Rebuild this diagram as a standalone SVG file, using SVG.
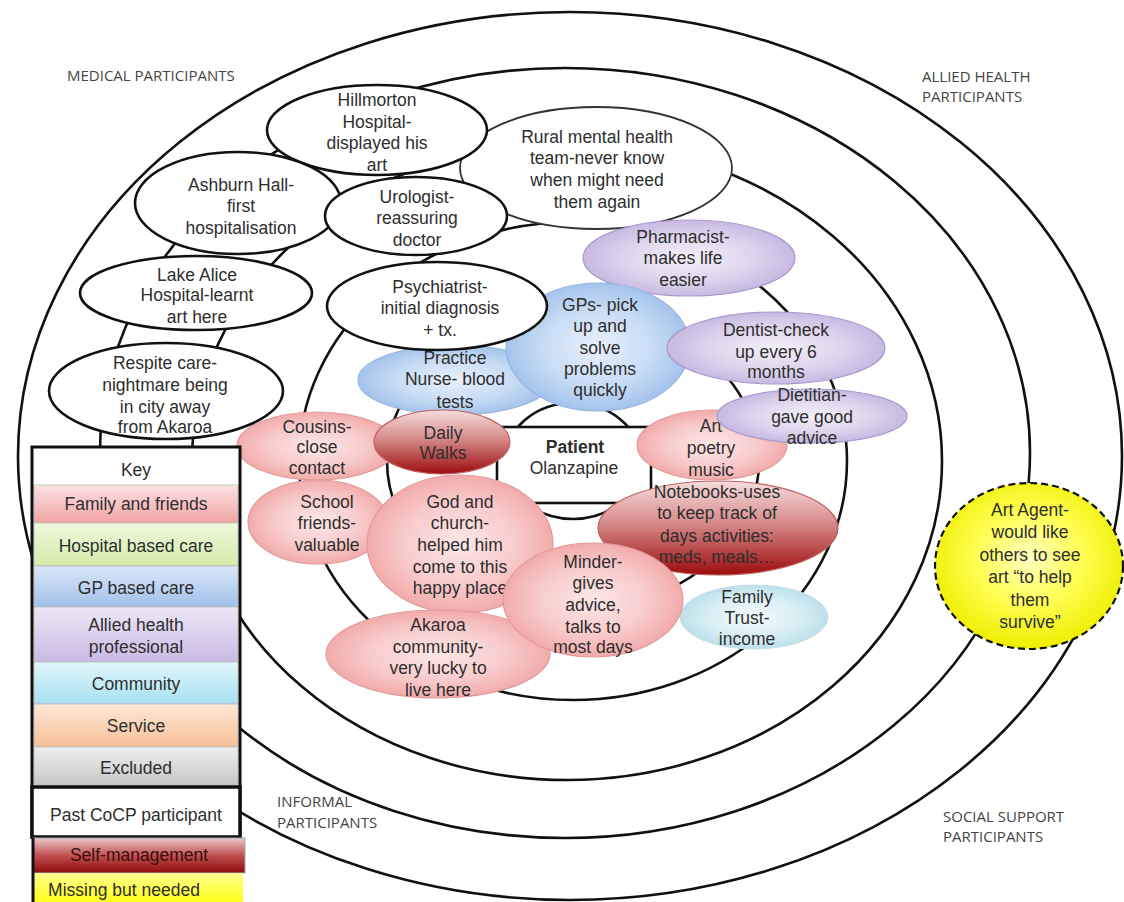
<svg xmlns="http://www.w3.org/2000/svg" width="1124" height="902" viewBox="0 0 1124 902">
<defs>
<style>
.ring{fill:none;stroke:#111;stroke-width:2.6}
.past{fill:#fff;stroke:#111;stroke-width:2.6}
.rural{fill:#fff;stroke:#333;stroke-width:1.8}
.t{font-family:"Liberation Sans",Arial,sans-serif;font-size:17.5px;fill:#2e2e2e;text-anchor:middle}
.tb{font-weight:bold}
.lbl{font-family:"Open Sans","Liberation Sans",sans-serif;font-size:15px;fill:#444}
.pink{fill:url(#rPink);stroke:#e29a9a;stroke-width:1.2}
.blue{fill:url(#rBlue);stroke:#95b5df;stroke-width:1.2}
.purple{fill:url(#rPurple);stroke:#a99bcd;stroke-width:1.2}
.cyan{fill:url(#rCyan);stroke:#c4e0ea;stroke-width:1}
.self{fill:url(#lSelf);stroke:#c06060;stroke-width:1.2}
.yellow{fill:url(#rYellow);stroke:#111;stroke-width:2.2;stroke-dasharray:7 4}
.krow{stroke:#bbb;stroke-width:0.8}
</style>
<radialGradient id="rPink" cx="0.5" cy="0.5" r="0.5">
<stop offset="0" stop-color="#fde7e7"/><stop offset="0.6" stop-color="#f8cbcb"/><stop offset="1" stop-color="#f2abab"/>
</radialGradient>
<radialGradient id="rBlue" cx="0.5" cy="0.5" r="0.5">
<stop offset="0" stop-color="#e8f0fb"/><stop offset="0.6" stop-color="#c7dcf4"/><stop offset="1" stop-color="#a4c3ec"/>
</radialGradient>
<radialGradient id="rPurple" cx="0.5" cy="0.5" r="0.5">
<stop offset="0" stop-color="#f4f0f9"/><stop offset="0.6" stop-color="#ded5ed"/><stop offset="1" stop-color="#c7b9e1"/>
</radialGradient>
<radialGradient id="rCyan" cx="0.5" cy="0.5" r="0.5">
<stop offset="0" stop-color="#f3fafc"/><stop offset="0.6" stop-color="#daeff5"/><stop offset="1" stop-color="#bde0eb"/>
</radialGradient>
<radialGradient id="rYellow" cx="0.5" cy="0.45" r="0.55">
<stop offset="0" stop-color="#ffffc0"/><stop offset="0.5" stop-color="#ffff55"/><stop offset="1" stop-color="#eeee00"/>
</radialGradient>
<linearGradient id="lSelf" x1="0" y1="0" x2="0" y2="1">
<stop offset="0" stop-color="#f7dcdc"/><stop offset="0.45" stop-color="#d68a8a"/><stop offset="1" stop-color="#9c0c0c"/>
</linearGradient>
<linearGradient id="kPink" x1="0" y1="0" x2="0" y2="1"><stop offset="0" stop-color="#fbe2e2"/><stop offset="1" stop-color="#f2a3a3"/></linearGradient>
<linearGradient id="kGreen" x1="0" y1="0" x2="0" y2="1"><stop offset="0" stop-color="#f0f9de"/><stop offset="1" stop-color="#d2eba8"/></linearGradient>
<linearGradient id="kBlue" x1="0" y1="0" x2="0" y2="1"><stop offset="0" stop-color="#dbe7f8"/><stop offset="1" stop-color="#a0c0ea"/></linearGradient>
<linearGradient id="kPurple" x1="0" y1="0" x2="0" y2="1"><stop offset="0" stop-color="#eee7f6"/><stop offset="1" stop-color="#c9b9e2"/></linearGradient>
<linearGradient id="kCyan" x1="0" y1="0" x2="0" y2="1"><stop offset="0" stop-color="#e2f6fb"/><stop offset="1" stop-color="#a6e0ef"/></linearGradient>
<linearGradient id="kOrange" x1="0" y1="0" x2="0" y2="1"><stop offset="0" stop-color="#fde8d8"/><stop offset="1" stop-color="#f6bf96"/></linearGradient>
<linearGradient id="kGray" x1="0" y1="0" x2="0" y2="1"><stop offset="0" stop-color="#eeeeee"/><stop offset="1" stop-color="#c4c4c4"/></linearGradient>
<linearGradient id="kSelf" x1="0" y1="0" x2="0" y2="1"><stop offset="0" stop-color="#ecc8c8"/><stop offset="0.5" stop-color="#c05050"/><stop offset="1" stop-color="#8e0a0a"/></linearGradient>
<linearGradient id="kYellow" x1="0" y1="0" x2="0" y2="1"><stop offset="0" stop-color="#ffff90"/><stop offset="1" stop-color="#ffff10"/></linearGradient>
</defs>
<rect width="1124" height="902" fill="#fff"/>

<g id="rings">
<ellipse class="ring" cx="570" cy="456" rx="552" ry="444"/>
<ellipse class="ring" cx="565" cy="453" rx="465" ry="385"/>
<ellipse class="ring" cx="567" cy="461" rx="375" ry="319"/>
<ellipse class="ring" cx="573" cy="461" rx="274" ry="239"/>
<ellipse class="ring" cx="573" cy="461" rx="186" ry="150"/>
</g>

<g id="labels">
<text class="lbl" x="67" y="81">MEDICAL PARTICIPANTS</text>
<text class="lbl" x="922" y="82">ALLIED HEALTH</text>
<text class="lbl" x="922" y="102">PARTICIPANTS</text>
<text class="lbl" x="277" y="807">INFORMAL</text>
<text class="lbl" x="277" y="828">PARTICIPANTS</text>
<text class="lbl" x="943" y="822">SOCIAL SUPPORT</text>
<text class="lbl" x="943" y="842">PARTICIPANTS</text>
</g>

<g id="patient">
<ellipse class="past" cx="573" cy="461" rx="68" ry="58"/>
<rect x="497" y="427" width="154" height="76" fill="#fff" stroke="#111" stroke-width="2.6"/>
<text class="t"><tspan class="tb" x="575" y="453">Patient</tspan><tspan x="574" y="474">Olanzapine</tspan></text>
</g>

<g id="rural">
<ellipse class="rural" cx="596" cy="168" rx="136" ry="61"/>
<text class="t"><tspan x="597" y="143">Rural mental health</tspan><tspan x="597" y="164">team-never know</tspan><tspan x="597" y="186">when might need</tspan><tspan x="597" y="208">them again</tspan></text>
</g>

<g id="ashburn">
<ellipse class="past" cx="238" cy="203" rx="103" ry="51"/>
<text class="t"><tspan x="241" y="191">Ashburn Hall-</tspan><tspan x="241" y="212">first</tspan><tspan x="241" y="234">hospitalisation</tspan></text>
</g>

<g id="hillmorton">
<ellipse class="past" cx="377" cy="130" rx="110" ry="45"/>
<text class="t"><tspan x="377" y="106">Hillmorton</tspan><tspan x="377" y="128">Hospital-</tspan><tspan x="377" y="149">displayed his</tspan><tspan x="377" y="171">art</tspan></text>
</g>

<g id="urologist">
<ellipse class="past" cx="416" cy="216" rx="91" ry="39"/>
<text class="t"><tspan x="417" y="203">Urologist-</tspan><tspan x="417" y="224">reassuring</tspan><tspan x="417" y="246">doctor</tspan></text>
</g>

<g id="lakealice">
<ellipse class="past" cx="196" cy="293" rx="116" ry="37"/>
<text class="t"><tspan x="197" y="281">Lake Alice</tspan><tspan x="197" y="301">Hospital-learnt</tspan><tspan x="197" y="323">art here</tspan></text>
</g>

<g id="pharmacist">
<ellipse class="purple" cx="689" cy="258" rx="106" ry="38"/>
<text class="t"><tspan x="683" y="243">Pharmacist-</tspan><tspan x="683" y="264">makes life</tspan><tspan x="683" y="286">easier</tspan></text>
</g>

<g id="practicenurse">
<ellipse class="blue" cx="455" cy="380" rx="97" ry="35"/>
<text class="t"><tspan x="455" y="364">Practice</tspan><tspan x="455" y="385">Nurse- blood</tspan><tspan x="455" y="408">tests</tspan></text>
</g>

<g id="gps">
<ellipse class="blue" cx="598" cy="347" rx="92" ry="64"/>
<text class="t"><tspan x="600" y="311">GPs- pick</tspan><tspan x="600" y="332">up and</tspan><tspan x="600" y="354">solve</tspan><tspan x="600" y="375">problems</tspan><tspan x="600" y="396">quickly</tspan></text>
</g>

<g id="psychiatrist">
<ellipse class="past" cx="437" cy="306" rx="110" ry="44"/>
<text class="t"><tspan x="440" y="293">Psychiatrist-</tspan><tspan x="440" y="314">initial diagnosis</tspan><tspan x="440" y="336">+ tx.</tspan></text>
</g>

<g id="dentist">
<ellipse class="purple" cx="776" cy="348" rx="109" ry="36"/>
<text class="t"><tspan x="776" y="336">Dentist-check</tspan><tspan x="776" y="358">up every 6</tspan><tspan x="776" y="378">months</tspan></text>
</g>

<g id="notebooks">
<ellipse class="self" cx="718" cy="528" rx="120" ry="47"/>
<text class="t"><tspan x="717" y="498">Notebooks-uses</tspan><tspan x="717" y="519">to keep track of</tspan><tspan x="717" y="542">days activities:</tspan><tspan x="717" y="563">meds, meals…</tspan></text>
</g>

<g id="art">
<ellipse class="pink" cx="712" cy="445" rx="75" ry="35"/>
<text class="t"><tspan x="711" y="432">Art</tspan><tspan x="711" y="454">poetry</tspan><tspan x="711" y="476">music</tspan></text>
</g>

<g id="dietitian">
<ellipse class="purple" cx="812" cy="416" rx="95" ry="27"/>
<text class="t"><tspan x="812" y="401">Dietitian-</tspan><tspan x="812" y="423">gave good</tspan><tspan x="812" y="444">advice</tspan></text>
</g>

<g id="cousins">
<ellipse class="pink" cx="317" cy="446" rx="80" ry="34"/>
<text class="t"><tspan x="317" y="433">Cousins-</tspan><tspan x="317" y="453">close</tspan><tspan x="317" y="474">contact</tspan></text>
</g>

<g id="respite">
<ellipse class="past" cx="166" cy="391" rx="117" ry="48"/>
<text class="t"><tspan x="165" y="369">Respite care-</tspan><tspan x="165" y="391">nightmare being</tspan><tspan x="165" y="413">in city away</tspan><tspan x="165" y="433">from Akaroa</tspan></text>
</g>

<g id="school">
<ellipse class="pink" cx="318" cy="522" rx="70" ry="42"/>
<text class="t"><tspan x="327" y="508">School</tspan><tspan x="327" y="529">friends-</tspan><tspan x="327" y="551">valuable</tspan></text>
</g>

<g id="god">
<ellipse class="pink" cx="460" cy="544" rx="93" ry="69"/>
<text class="t"><tspan x="460" y="508">God and</tspan><tspan x="460" y="529">church-</tspan><tspan x="460" y="551">helped him</tspan><tspan x="460" y="573">come to this</tspan><tspan x="460" y="594">happy place</tspan></text>
</g>

<g id="dailywalks">
<ellipse class="self" cx="442" cy="442" rx="68" ry="32"/>
<text class="t"><tspan x="443" y="439">Daily</tspan><tspan x="443" y="459">Walks</tspan></text>
</g>

<g id="akaroa">
<ellipse class="pink" cx="438" cy="654" rx="112" ry="44"/>
<text class="t"><tspan x="438" y="631">Akaroa</tspan><tspan x="438" y="653">community-</tspan><tspan x="438" y="674">very lucky to</tspan><tspan x="438" y="696">live here</tspan></text>
</g>

<g id="familytrust">
<ellipse class="cyan" cx="754" cy="617" rx="74" ry="32"/>
<text class="t"><tspan x="747" y="603">Family</tspan><tspan x="747" y="624">Trust-</tspan><tspan x="747" y="645">income</tspan></text>
</g>

<g id="minder">
<ellipse class="pink" cx="593" cy="600" rx="90" ry="57"/>
<text class="t"><tspan x="593" y="568">Minder-</tspan><tspan x="593" y="589">gives</tspan><tspan x="593" y="611">advice,</tspan><tspan x="593" y="633">talks to</tspan><tspan x="593" y="653">most days</tspan></text>
</g>

<g id="artagent">
<ellipse class="yellow" cx="1029" cy="566" rx="94" ry="83"/>
<text class="t"><tspan x="1030" y="516">Art Agent-</tspan><tspan x="1030" y="538">would like</tspan><tspan x="1030" y="561">others to see</tspan><tspan x="1030" y="583">art “to help</tspan><tspan x="1030" y="606">them</tspan><tspan x="1030" y="628">survive”</tspan></text>
</g>

<g id="key">
<rect x="32" y="447" width="208" height="390" fill="#fff"/>
<rect class="krow" x="34" y="485" width="204" height="38" fill="url(#kPink)"/>
<rect class="krow" x="34" y="523" width="204" height="43" fill="url(#kGreen)"/>
<rect class="krow" x="34" y="566" width="204" height="41" fill="url(#kBlue)"/>
<rect class="krow" x="34" y="607" width="204" height="55" fill="url(#kPurple)"/>
<rect class="krow" x="34" y="662" width="204" height="42" fill="url(#kCyan)"/>
<rect class="krow" x="34" y="704" width="204" height="43" fill="url(#kOrange)"/>
<rect class="krow" x="34" y="747" width="204" height="40" fill="url(#kGray)"/>
<rect x="32" y="447" width="208" height="390" fill="none" stroke="#111" stroke-width="3"/>
<rect x="32" y="787" width="208" height="50" fill="#fff" stroke="#111" stroke-width="3.5"/>
<rect x="33" y="838" width="212" height="35" fill="url(#kSelf)" stroke="#9aa8b8" stroke-width="1"/>
<rect x="33" y="873" width="210" height="32" fill="url(#kYellow)"/>
<line x1="33" y1="838" x2="33" y2="902" stroke="#111" stroke-width="3"/>
<text class="t"><tspan x="136" y="476">Key</tspan><tspan x="136" y="510">Family and friends</tspan><tspan x="136" y="552">Hospital based care</tspan><tspan x="136" y="594">GP based care</tspan><tspan x="136" y="631">Allied health</tspan><tspan x="136" y="653">professional</tspan><tspan x="136" y="690">Community</tspan><tspan x="136" y="732">Service</tspan><tspan x="136" y="774">Excluded</tspan><tspan x="136" y="821">Past CoCP participant</tspan><tspan x="139" y="861" fill="#3a0c0c">Self-management</tspan><tspan x="124" y="896">Missing but needed</tspan></text>
</g>
</svg>
